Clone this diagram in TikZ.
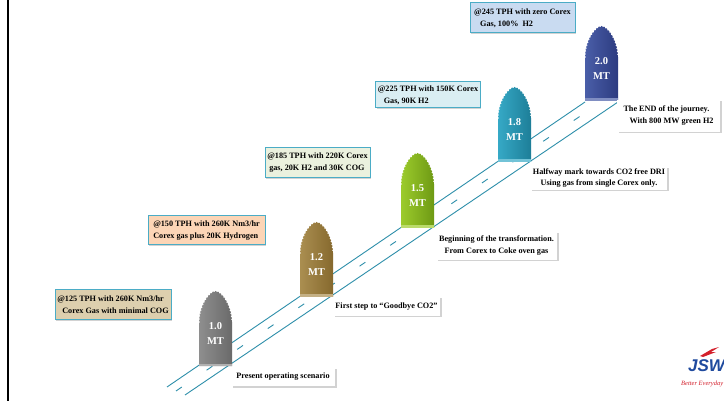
\documentclass[tikz,border=0pt]{standalone}
\usepackage{fontspec}
\setmainfont{Liberation Serif}
\newfontfamily\logofont{Liberation Sans}
\usetikzlibrary{shadows,decorations.markings}

\definecolor{roadcol}{HTML}{2E8FAA}
\definecolor{boxline}{HTML}{4BACC6}
\definecolor{tanfill}{HTML}{DDCFAE}
\definecolor{peachfill}{HTML}{FCD5B6}
\definecolor{greenfill}{HTML}{EBF1DE}
\definecolor{aquafill}{HTML}{DAEEF3}
\definecolor{bluefill}{HTML}{C9DBF1}
\definecolor{grayA}{HTML}{8E8E8E}\definecolor{grayB}{HTML}{6A6A6A}
\definecolor{brownA}{HTML}{AA8E50}\definecolor{brownB}{HTML}{86692E}
\definecolor{greenA}{HTML}{9CCB2C}\definecolor{greenB}{HTML}{6E9A14}
\definecolor{tealA}{HTML}{36A9C6}\definecolor{tealB}{HTML}{1D7E98}
\definecolor{navyA}{HTML}{4A5EA8}\definecolor{navyB}{HTML}{2C3B80}
\definecolor{jswblue}{HTML}{1F4A9E}
\definecolor{jswred}{HTML}{D4202C}

\tikzset{
  road/.style={draw=roadcol, line width=0.9pt},
  roadmark/.style={draw=roadcol, line width=0.9pt, dash pattern=on 7pt off 30pt},
  infobox/.style={draw=boxline, line width=1pt, inner sep=2pt, align=left,
    font=\fontsize{8.2}{12}\selectfont\bfseries,
    drop shadow={shadow xshift=1.2pt, shadow yshift=-1.2pt, opacity=0.35}},
  caption/.style={fill=white, inner sep=2pt, align=center,
    font=\fontsize{8.2}{12}\selectfont\bfseries,
    drop shadow={shadow xshift=1.5pt, shadow yshift=-1.5pt, opacity=0.35}},
  stonetext/.style={text=white, align=center, font=\fontsize{10.5}{15}\selectfont\bfseries},
  notches/.style={decorate, decoration={markings,
    mark=between positions 0 and 1 step 3pt with {\fill[white] (0,0) circle (0.8pt);}}}
}

% milestone stone: #1 left x, #2 base y, #3 light colour, #4 dark colour, #5 name, #6 label
\newcommand\milestone[6]{%
  \shade[left color=#3, middle color=#3!80!white, right color=#4]
    (#1,#2) -- (#1,#2-44)
    .. controls (#1,#2-60) and (#1+10,#2-75) .. (#1+16.5,#2-75)
    .. controls (#1+23,#2-75) and (#1+33,#2-60) .. (#1+33,#2-44)
    -- (#1+33,#2) -- cycle;
  \path[notches] (#1,#2-44)
    .. controls (#1,#2-60) and (#1+10,#2-75) .. (#1+16.5,#2-75)
    .. controls (#1+23,#2-75) and (#1+33,#2-60) .. (#1+33,#2-44);
  \fill[#3!70!white] (#1,#2-2.5) rectangle (#1+33,#2);
  \node[stonetext] (#5) at (#1+16.5,#2-32) {#6};
}

\begin{document}
\begin{tikzpicture}[x=1pt,y=-1pt]
\useasboundingbox (0,0) rectangle (724,401);
\clip (0,0) rectangle (724,401);
\fill[white] (0,0) rectangle (724,401);

% frame rule on the left
\draw[line width=2.2pt] (8,-1) -- (8,402);

% the road
\coordinate (rl0) at (167,387);
\coordinate (rl1) at (585,102);
\coordinate (rr0) at (185,395);
\coordinate (rr1) at (618,102);
\coordinate (rc0) at (176,391);
\coordinate (rc1) at (601,102);
\draw[road] (rl0) -- (rl1);
\draw[road] (rr0) -- (rr1);
\draw[roadmark] (rc0) -- (rc1);

% milestones along the road
\milestone{199}{366}{grayA}{grayB}{m10}{1.0\\MT}
\milestone{300}{297}{brownA}{brownB}{m12}{1.2\\MT}
\milestone{401}{228}{greenA}{greenB}{m15}{1.5\\MT}
\milestone{498}{162}{tealA}{tealB}{m18}{1.8\\MT}
\milestone{585}{101}{navyA}{navyB}{m20}{2.0\\MT}

% operating points
\node[infobox, fill=tanfill, minimum width=116pt, minimum height=30pt] (b10) at (113,305)
  {@125 TPH with 260K Nm3/hr\\\hspace*{5pt}Corex Gas with minimal COG};
\node[infobox, fill=peachfill, minimum width=117pt, minimum height=29pt] (b12) at (206.5,230.5)
  {@150 TPH with 260K Nm3/hr\\Corex gas plus 20K Hydrogen};
\node[infobox, fill=greenfill, minimum width=105pt, minimum height=30pt] (b15) at (317.5,163)
  {@185 TPH with 220K Corex\\\hspace*{2pt}gas, 20K H2 and 30K COG};
\node[infobox, fill=aquafill, minimum width=100pt, minimum height=26pt] (b18) at (428,95)
  {@225 TPH with 150K Corex\\\hspace*{6pt}Gas, 90K H2\hspace*{48pt}};
\node[infobox, fill=bluefill, minimum width=105pt, minimum height=30pt] (b20) at (522.5,18)
  {@245 TPH with zero Corex\\\hspace*{6pt}Gas, 100\%\ \ H2\hspace*{36pt}};

% milestone captions
\node[caption, minimum width=104pt, minimum height=19pt] (c10) at (283,376.5)
  {Present operating scenario};
\node[caption, minimum width=107pt, minimum height=19pt] (c12) at (386.5,306.5)
  {First step to “Goodbye CO2”};
\node[caption, minimum width=121pt, minimum height=28pt] (c15) at (496.5,246)
  {Beginning of the transformation.\\From Corex to Coke oven gas};
\node[caption, minimum width=132pt, minimum height=23pt, font=\fontsize{8.2}{11}\selectfont\bfseries] (c18) at (599,178.5)
  {Halfway mark towards CO2 free DRI\\Using gas from single Corex only.};
\node[caption, minimum width=103pt, minimum height=32pt, align=left] (c20) at (668.5,116)
  {The END of the journey.\\\hspace*{6pt}With 800 MW green H2};

% company mark
\fill[jswred] (700,356) -- (712,349) -- (719,347) -- (711,352) -- (716,352) -- (703,357) -- cycle;
\node[anchor=west, inner sep=0pt, text=jswblue, font=\logofont\fontsize{17}{17}\selectfont\bfseries\itshape] (jsw) at (688,366) {JSW};
\node[anchor=west, inner sep=0pt, text=jswred, font=\fontsize{6.5}{7}\selectfont\itshape] (tag) at (681,384) {Better Everyday};
\end{tikzpicture}
\end{document}
